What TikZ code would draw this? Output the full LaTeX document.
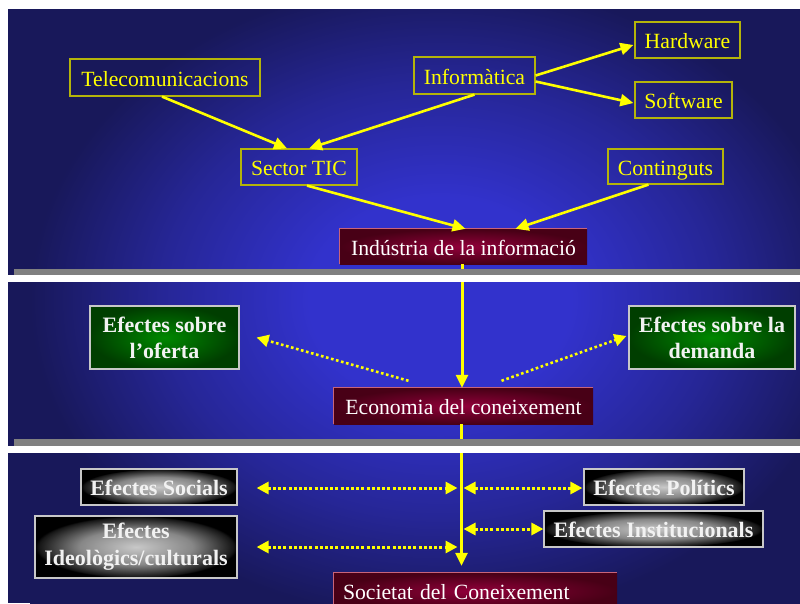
\documentclass[tikz,border=0pt]{standalone}
\usepackage{fontspec}
\setmainfont{Liberation Serif}
\usetikzlibrary{arrows.meta,calc}
\definecolor{bgbright}{RGB}{50,50,204}
\definecolor{bgmid}{RGB}{38,38,150}
\definecolor{bgdark}{RGB}{24,24,90}
\definecolor{ylw}{RGB}{255,255,0}
\definecolor{ylwborder}{RGB}{180,180,10}
\definecolor{maroonin}{RGB}{145,0,58}
\definecolor{maroonout}{RGB}{72,0,22}
\definecolor{maroonedge}{RGB}{200,100,122}
\definecolor{greenin}{RGB}{0,136,0}
\definecolor{greenout}{RGB}{0,62,0}
\definecolor{boxedge}{RGB}{200,200,200}
\definecolor{grayin}{RGB}{200,200,200}
\definecolor{graymid}{RGB}{135,135,135}
\definecolor{grayedge}{RGB}{22,22,22}
\definecolor{grayout}{RGB}{0,0,0}
\definecolor{barcol}{RGB}{128,128,128}
\definecolor{btext}{RGB}{242,242,242}
\pgfdeclareradialshading{bgshade}{\pgfpoint{0bp}{0bp}}{color(0bp)=(bgbright); color(8bp)=(bgbright); color(17bp)=(bgmid); color(25bp)=(bgdark); color(50bp)=(bgdark)}
\pgfdeclareradialshading{maroonshade}{\pgfpoint{0bp}{0bp}}{color(0bp)=(maroonin); color(25bp)=(maroonout); color(50bp)=(maroonout)}
\pgfdeclareradialshading{greenshade}{\pgfpoint{0bp}{0bp}}{color(0bp)=(greenin); color(25bp)=(greenout); color(50bp)=(greenout)}
\pgfdeclareradialshading{grayshade}{\pgfpoint{0bp}{0bp}}{color(0bp)=(grayin); color(14bp)=(graymid); color(24bp)=(grayedge); color(25bp)=(grayout); color(50bp)=(grayout)}
\tikzset{
  ybox/.style={draw=ylwborder, line width=1.2pt, text=ylw, inner sep=0pt,
    font=\fontsize{21.7}{26}\selectfont, text height=17pt, text depth=0pt},
  mbox/.style={shading=maroonshade, text=white, inner sep=0pt,
    font=\fontsize{21.7}{26}\selectfont, text height=17pt, text depth=0pt},
  gbox/.style={shading=greenshade, draw=boxedge, line width=1.2pt, text=btext, inner sep=0pt,
    align=center, font=\bfseries\fontsize{22}{26}\selectfont},
  kbox/.style={shading=grayshade, draw=boxedge, line width=1.2pt, text=btext, inner sep=0pt,
    align=center, font=\bfseries\fontsize{22}{27}\selectfont},
  kone/.style={kbox, text height=16pt, text depth=0pt},
  arr/.style={draw=ylw, line width=2.6pt, -{Triangle[length=13pt,width=12pt]}},
  varr/.style={arr, line width=3pt},
  darr/.style={draw=ylw, line width=2.6pt, dash pattern=on 2.6pt off 2.6pt, -{Triangle[length=12pt,width=12pt]}},
  ddarr/.style={draw=ylw, line width=3pt, dash pattern=on 3pt off 2.2pt, {Triangle[length=12pt,width=12pt]}-{Triangle[length=12pt,width=12pt]}},
  medge/.style={draw=maroonedge, line width=1.2pt},
}
\begin{document}
\begin{tikzpicture}[x=1pt,y=-1pt]
\useasboundingbox (0,0) rectangle (800,603);
\clip (0,0) rectangle (800,603);
% background
\begin{scope}
  \clip (8,9) rectangle (800,603);
  \fill[bgdark] (8,9) rectangle (800,603);
  \path[shading=bgshade] (30,-20) rectangle (850,620);
\end{scope}
% top panel nodes
\node[ybox, minimum width=190pt, minimum height=37pt] (tel) at (165,77.5) {Telecomunicacions};
\node[ybox, minimum width=116pt, minimum height=36pt] (tic) at (299,167) {Sector TIC};
\node[ybox, minimum width=121pt, minimum height=37pt] (inf) at (474.5,75.5) {Informàtica};
\node[ybox, minimum width=105pt, minimum height=36pt] (hw) at (687.5,40) {Hardware};
\node[ybox, minimum width=97pt, minimum height=36pt] (sw) at (683.5,100) {Software};
\node[ybox, minimum width=115pt, minimum height=35pt] (cont) at (665.5,166.5) {Continguts};
\node[mbox, minimum width=247pt, minimum height=35pt] (ind) at (463.5,246.5) {Indústria de la informació};
\draw[medge] (ind.south west) -- (ind.north west) -- (ind.north east);
% middle panel nodes
\node[mbox, minimum width=259pt, minimum height=36pt] (eco) at (463.5,406) {Economia del coneixement};
\draw[medge] (eco.south west) -- (eco.north west) -- (eco.north east);
\node[gbox, minimum width=149pt, minimum height=63pt] (ofe) at (164.5,337.5) {Efectes sobre\\l’oferta};
\node[gbox, minimum width=166pt, minimum height=63pt] (dem) at (712,337.5) {Efectes sobre la\\demanda};
% bottom panel nodes
\node[kone, minimum width=156pt, minimum height=36pt] (soci) at (159,487) {Efectes Socials};
\node[kbox, minimum width=202pt, minimum height=62pt] (ideo) at (136,547) {Efectes\\Ideològics/culturals};
\node[kone, minimum width=160pt, minimum height=36pt] (pol) at (664,487) {Efectes Polítics};
\node[kone, minimum width=219pt, minimum height=36pt] (inst) at (653.5,529) {Efectes Institucionals};
\node[mbox, inner xsep=9pt, text width=265pt, align=left, minimum height=36pt] (soc) at (475.5,591) {Societat del Coneixement};
\draw[medge] (soc.south west) -- (soc.north west) -- (soc.north east);
% helper coordinates on the vertical line
\coordinate (vx) at ($(eco.south)+(-6,0)$);
\coordinate (vxr) at ($(eco.south)+(0,0)$);
% top connectors
\draw[arr] ($(tel.south)+(-3,0)$) -- ($(tic.north)+(-12,0)$);
\draw[arr] (inf.south) -- ($(tic.north)+(10,0)$);
\draw[arr] (inf.east) -- ($(hw.west)+(-1,5)$);
\draw[arr] ($(inf.east)+(0,6)$) -- ($(sw.west)+(-1,3)$);
\draw[arr] ($(tic.south)+(8,0)$) -- ($(ind.north)+(2,0)$);
\draw[arr] ($(cont.south)+(-17,0)$) -- ($(ind.north)+(52,0)$);
% vertical connectors
\draw[varr] ($(ind.south)+(-1.5,0)$) -- ($(eco.north)+(-1.5,0)$);
\draw[varr] ($(eco.south)+(-2,0)$) -- ($(eco.south |- soc.north)+(-2,-7)$);
% middle dotted arrows
\draw[darr] ($(eco.north)+(-55,-7)$) -- ($(ofe.east)+(17,0)$);
\draw[darr] ($(eco.north)+(38,-7)$) -- ($(dem.west)+(-2,-1.5)$);
% bottom dotted double arrows
\draw[ddarr] ($(soci.east)+(19,1)$) -- ($(soci.east -| vx)+(0,1)$);
\draw[ddarr] ($(pol.west -| vxr)+(0,1)$) -- ($(pol.west)+(-1,1)$);
\draw[ddarr] (inst.west -| vxr) -- (inst.west);
\draw[ddarr] ($(ideo.east)+(19,0)$) -- (ideo.east -| vx);
% gaps and bars
\fill[white] (0,275) rectangle (800,282);
\fill[white] (0,446) rectangle (800,453);
\fill[barcol] (14,269) rectangle (800,275);
\fill[barcol] (14,439) rectangle (800,446);
\end{tikzpicture}
\end{document}
